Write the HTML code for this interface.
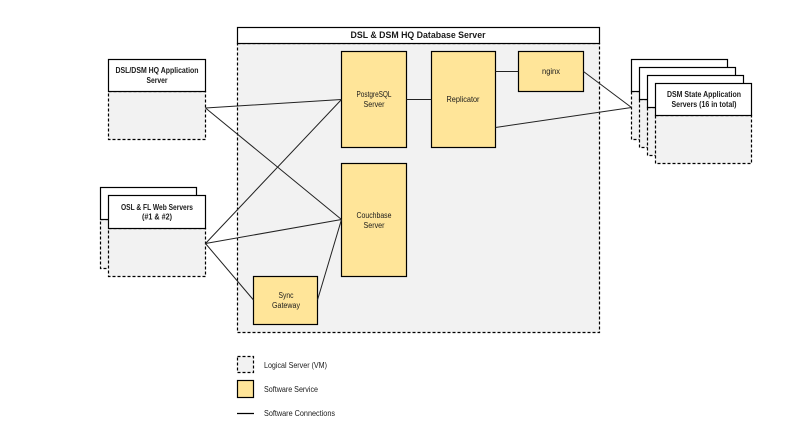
<!DOCTYPE html>
<html><head><meta charset="utf-8"><style>
html,body{margin:0;padding:0;background:#fff;width:801px;height:428px;overflow:hidden}
svg{display:block}
text{font-family:"Liberation Sans",sans-serif;font-size:8px;fill:#1a1a1a;text-anchor:middle}
.b{font-weight:bold}
.g{fill:#f2f2f2;stroke:#000;stroke-width:1.2;stroke-dasharray:3 2}
.w{fill:#fff;stroke:#000;stroke-width:1.2}
.y{fill:#ffe599;stroke:#000;stroke-width:1.2}
.l{stroke:#222;stroke-width:1;fill:none}
.L{text-anchor:start}
</style></head><body>
<svg width="801" height="428" viewBox="0 0 801 428" xmlns="http://www.w3.org/2000/svg">
<rect class="g" x="237.5" y="43.5" width="362" height="289"/>
<rect class="w" x="237.5" y="27.5" width="362" height="16"/>
<text class="b" x="418" y="38" style="font-size:9.5px" textLength="135" lengthAdjust="spacingAndGlyphs">DSL &amp; DSM HQ Database Server</text>

<rect class="g" x="108.5" y="91.5" width="97" height="48"/>
<rect class="w" x="108.5" y="59.5" width="97" height="32"/>
<text class="b" x="157" y="73" textLength="83" lengthAdjust="spacingAndGlyphs">DSL/DSM HQ Application</text>
<text class="b" x="157" y="83" textLength="21" lengthAdjust="spacingAndGlyphs">Server</text>

<rect class="g" x="100.5" y="219.5" width="96" height="49"/>
<rect class="w" x="100.5" y="187.5" width="96" height="32"/>
<rect class="g" x="108.5" y="228.5" width="97" height="48"/>
<rect class="w" x="108.5" y="195.5" width="97" height="33"/>
<text class="b" x="157" y="210" textLength="72" lengthAdjust="spacingAndGlyphs">OSL &amp; FL Web Servers</text>
<text class="b" x="157" y="219.5" textLength="30" lengthAdjust="spacingAndGlyphs">(#1 &amp; #2)</text>

<rect class="y" x="341.5" y="51.5" width="65" height="96"/>
<text x="374" y="97" textLength="35" lengthAdjust="spacingAndGlyphs">PostgreSQL</text>
<text x="374" y="107" textLength="21" lengthAdjust="spacingAndGlyphs">Server</text>
<rect class="y" x="431.5" y="51.5" width="64" height="96"/>
<text x="463" y="102" textLength="33" lengthAdjust="spacingAndGlyphs">Replicator</text>
<rect class="y" x="518.5" y="51.5" width="65" height="40"/>
<text x="551" y="74" textLength="18" lengthAdjust="spacingAndGlyphs">nginx</text>
<rect class="y" x="341.5" y="163.5" width="65" height="113"/>
<text x="374" y="218" textLength="35" lengthAdjust="spacingAndGlyphs">Couchbase</text>
<text x="374" y="228" textLength="21" lengthAdjust="spacingAndGlyphs">Server</text>
<rect class="y" x="253.5" y="276.5" width="64" height="48"/>
<text x="286" y="298" textLength="15" lengthAdjust="spacingAndGlyphs">Sync</text>
<text x="286" y="308" textLength="28" lengthAdjust="spacingAndGlyphs">Gateway</text>

<rect class="g" x="631.5" y="91.5" width="96" height="48"/>
<rect class="w" x="631.5" y="59.5" width="96" height="32"/>
<rect class="g" x="639.5" y="99.5" width="96" height="48"/>
<rect class="w" x="639.5" y="67.5" width="96" height="32"/>
<rect class="g" x="647.5" y="107.5" width="96" height="48"/>
<rect class="w" x="647.5" y="75.5" width="96" height="32"/>
<rect class="g" x="655.5" y="115.5" width="96" height="48"/>
<rect class="w" x="655.5" y="83.5" width="96" height="32"/>
<text class="b" x="704" y="97" textLength="74" lengthAdjust="spacingAndGlyphs">DSM State Application</text>
<text class="b" x="704" y="107" textLength="65" lengthAdjust="spacingAndGlyphs">Servers (16 in total)</text>

<path class="l" d="M205.5 108L341.5 99.5M205.5 108L341.5 219.5M205.5 243.5L341.5 99.5M205.5 243.5L341.5 219.5M205.5 243.5L253.5 300M317.5 300L341.5 219.5M406.5 99.5H431.5M495.5 71.5H518.5M583.5 71.5L631.5 107.5M495.5 127.5L631.5 107.5"/>

<rect class="g" x="237.5" y="356.5" width="16" height="16"/>
<text class="L" x="264" y="368" textLength="63" lengthAdjust="spacingAndGlyphs">Logical Server (VM)</text>
<rect class="y" x="237.5" y="380.5" width="16" height="17"/>
<text class="L" x="264" y="392" textLength="54" lengthAdjust="spacingAndGlyphs">Software Service</text>
<path d="M237 413.5H254" stroke="#000" stroke-width="1.2"/>
<text class="L" x="264" y="416" textLength="71" lengthAdjust="spacingAndGlyphs">Software Connections</text>
</svg>
</body></html>
